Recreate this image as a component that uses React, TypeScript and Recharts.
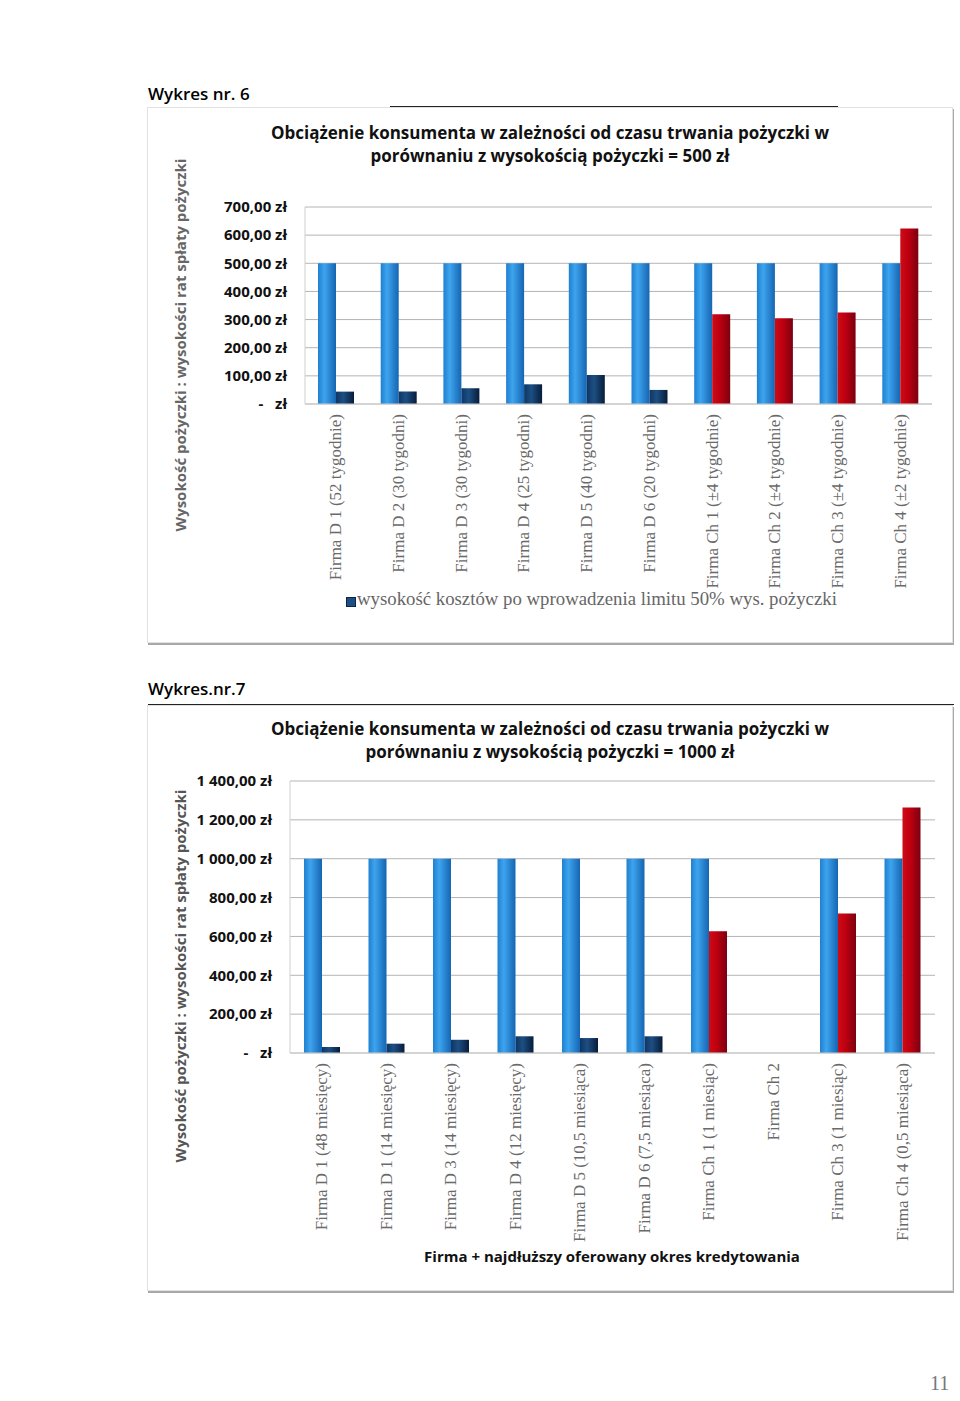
import { BarChart, Bar, XAxis, YAxis, CartesianGrid, Cell } from "recharts";

// Wykres nr 6 – pożyczka 500 zł
const firms6 = [
  "Firma D 1 (52 tygodnie)",
  "Firma D 2 (30 tygodni)",
  "Firma D 3 (30 tygodni)",
  "Firma D 4 (25 tygodni)",
  "Firma D 5 (40 tygodni)",
  "Firma D 6 (20 tygodni)",
  "Firma Ch 1 (±4 tygodnie)",
  "Firma Ch 2 (±4 tygodnie)",
  "Firma Ch 3 (±4 tygodnie)",
  "Firma Ch 4 (±2 tygodnie)",
];
const loan6 = [500, 500, 500, 500, 500, 500, 500, 500, 500, 500];
const cost6 = [44, 44, 56, 70, 103, 50, 319, 305, 325, 624];
const ticks6 = [0, 100, 200, 300, 400, 500, 600, 700];

// Wykres nr 7 – pożyczka 1000 zł
const firms7 = [
  "Firma D 1 (48 miesięcy)",
  "Firma D 1 (14 miesięcy)",
  "Firma D 3 (14 miesięcy)",
  "Firma D 4 (12 miesięcy)",
  "Firma D 5 (10,5 miesiąca)",
  "Firma D 6 (7,5 miesiąca)",
  "Firma Ch 1 (1 miesiąc)",
  "Firma Ch 2",
  "Firma Ch 3 (1 miesiąc)",
  "Firma Ch 4 (0,5 miesiąca)",
];
const loan7 = [1000, 1000, 1000, 1000, 1000, 1000, 1000, null, 1000, 1000];
const cost7 = [31, 48, 68, 86, 77, 86, 627, null, 718, 1263];
const ticks7 = [0, 200, 400, 600, 800, 1000, 1200, 1400];

const yTitle = "Wysokość pożyczki : wysokości rat spłaty pożyczki";
const legend6 = "wysokość kosztów po wprowadzenia limitu 50% wys. pożyczki";
const xTitle7 = "Firma + najdłuższy oferowany okres kredytowania";

const COND = "'Open Sans', 'DejaVu Sans', sans-serif";
const SERIF = "'Liberation Serif', 'DejaVu Serif', serif";

const zl = (v: number) => {
  if (v === 0) return "-\u00a0\u00a0\u00a0zł";
  const s = String(v).replace(/\B(?=(\d{3})+(?!\d))/g, " ");
  return `${s},00 zł`;
};

const CatTick = (props: any) => {
  const { x, y, payload } = props;
  return (
    <text
      x={x}
      y={y}
      transform={`rotate(-90 ${x} ${y})`}
      textAnchor="end"
      dy={5}
      fontFamily={SERIF}
      fontSize={17}
      fill="#6a6a6a"
    >
      {payload.value}
    </text>
  );
};

const isCh = (name: string) => name.startsWith("Firma Ch");

function Grads({ id }: { id: string }) {
  return (
    <defs>
      <linearGradient id={`blue${id}`} x1="0" y1="0" x2="1" y2="0">
        <stop offset="0" stopColor="#1f80d0" />
        <stop offset="0.35" stopColor="#3ea4ee" />
        <stop offset="1" stopColor="#1565b2" />
      </linearGradient>
      <linearGradient id={`navy${id}`} x1="0" y1="0" x2="1" y2="0">
        <stop offset="0" stopColor="#0f3566" />
        <stop offset="0.4" stopColor="#1d4f82" />
        <stop offset="1" stopColor="#071c3b" />
      </linearGradient>
      <linearGradient id={`red${id}`} x1="0" y1="0" x2="1" y2="0">
        <stop offset="0" stopColor="#cc0c16" />
        <stop offset="0.4" stopColor="#c00010" />
        <stop offset="1" stopColor="#7c0010" />
      </linearGradient>
    </defs>
  );
}

const abs = (left: number, top: number, extra: any = {}) => ({
  position: "absolute" as const,
  left,
  top,
  ...extra,
});

export default function App() {
  const data6 = firms6.map((f, i) => ({ firm: f, loan: loan6[i], cost: cost6[i] }));
  const data7 = firms7.map((f, i) => ({ firm: f, loan: loan7[i], cost: cost7[i] }));

  const tickStyle = { fontFamily: COND, fontSize: 15, fontWeight: 700, fill: "#111", fontStretch: "88%" };
  const titleStyle = { fontFamily: COND, fontWeight: 700, fontSize: 17, lineHeight: "23px", color: "#111" };
  const yTitleStyle = { fontFamily: COND, fontWeight: 700, fontSize: 15, fontStretch: "95%" };

  return (
    <div style={{ position: "absolute", left: 0, top: 0, width: 960, height: 1401, background: "#fff", overflow: "hidden" }}>
      {/* Wykres nr. 6 */}
      <div style={abs(148, 82, { fontFamily: COND, fontSize: 17, fontWeight: 600, color: "#000" })}>Wykres nr. 6</div>
      <div style={abs(390, 106, { width: 448, height: 1, background: "#222" })} />
      <div style={abs(148, 108, { width: 804, height: 534, boxShadow: "0 0 0 1px #e2e2e2, 1px 2px 0 1px #a8a8a8" })}>
        <BarChart
          width={804}
          height={534}
          data={data6}
          margin={{ top: 99, right: 20, left: 0, bottom: 0 }}
          barGap={0}
          barSize={18}
        >
          <Grads id="6" />
          <CartesianGrid vertical={false} stroke="#b4b4b4" />
          <YAxis
            width={157}
            domain={[0, 700]}
            ticks={ticks6}
            tickFormatter={zl}
            tick={tickStyle}
            tickSize={0}
            tickMargin={18}
            tickLine={false}
            axisLine={{ stroke: "#cfcfcf" }}
          />
          <XAxis
            dataKey="firm"
            interval={0}
            height={238}
            tick={<CatTick />}
            tickSize={0}
            tickMargin={10}
            tickLine={false}
            axisLine={{ stroke: "#cfcfcf" }}
          />
          <Bar dataKey="loan" fill="url(#blue6)" isAnimationActive={false} />
          <Bar dataKey="cost" isAnimationActive={false}>
            {data6.map((d) => (
              <Cell key={d.firm} fill={isCh(d.firm) ? "url(#red6)" : "url(#navy6)"} />
            ))}
          </Bar>
        </BarChart>
        <div style={abs(0, 13, { width: 804, textAlign: "center", ...titleStyle })}>
          <div>Obciążenie konsumenta w zależności od czasu trwania pożyczki w</div>
          <div>porównaniu z wysokością pożyczki = 500 zł</div>
        </div>
        <div
          style={abs(33 - 190, 237 - 11, {
            width: 380,
            height: 22,
            textAlign: "center",
            transform: "rotate(-90deg)",
            color: "#666",
            ...yTitleStyle,
          })}
        >
          {yTitle}
        </div>
        <div style={abs(198, 489, { width: 8, height: 8, background: "#1d4f82", border: "1px solid #0b2548" })} />
        <div style={abs(209, 480, { fontFamily: SERIF, fontSize: 18.8, color: "#666", whiteSpace: "nowrap" })}>{legend6}</div>
      </div>

      {/* Wykres nr. 7 */}
      <div style={abs(148, 677, { fontFamily: COND, fontSize: 17, fontWeight: 600, color: "#000" })}>Wykres.nr.7</div>
      <div style={abs(148, 704, { width: 806, height: 1, background: "#222" })} />
      <div style={abs(148, 706, { width: 804, height: 584, boxShadow: "0 0 0 1px #e2e2e2, 1px 2px 0 1px #a8a8a8" })}>
        <BarChart
          width={804}
          height={584}
          data={data7}
          margin={{ top: 75, right: 17, left: 0, bottom: 0 }}
          barGap={0}
          barSize={18}
        >
          <Grads id="7" />
          <CartesianGrid vertical={false} stroke="#b4b4b4" />
          <YAxis
            width={142}
            domain={[0, 1400]}
            ticks={ticks7}
            tickFormatter={zl}
            tick={tickStyle}
            tickSize={0}
            tickMargin={18}
            tickLine={false}
            axisLine={{ stroke: "#cfcfcf" }}
          />
          <XAxis
            dataKey="firm"
            interval={0}
            height={237}
            tick={<CatTick />}
            tickSize={0}
            tickMargin={10}
            tickLine={false}
            axisLine={{ stroke: "#cfcfcf" }}
          />
          <Bar dataKey="loan" fill="url(#blue7)" isAnimationActive={false} />
          <Bar dataKey="cost" isAnimationActive={false}>
            {data7.map((d) => (
              <Cell key={d.firm + "c"} fill={isCh(d.firm) ? "url(#red7)" : "url(#navy7)"} />
            ))}
          </Bar>
        </BarChart>
        <div style={abs(0, 11, { width: 804, textAlign: "center", ...titleStyle })}>
          <div>Obciążenie konsumenta w zależności od czasu trwania pożyczki w</div>
          <div>porównaniu z wysokością pożyczki = 1000 zł</div>
        </div>
        <div
          style={abs(33 - 190, 270 - 11, {
            width: 380,
            height: 22,
            textAlign: "center",
            transform: "rotate(-90deg)",
            color: "#555",
            ...yTitleStyle,
          })}
        >
          {yTitle}
        </div>
        <div style={abs(0, 540, { width: 928, textAlign: "center", fontFamily: COND, fontWeight: 700, fontSize: 15, color: "#111" })}>
          {xTitle7}
        </div>
      </div>

      <div style={abs(930, 1372, { fontFamily: SERIF, fontSize: 20, color: "#777" })}>11</div>
    </div>
  );
}
